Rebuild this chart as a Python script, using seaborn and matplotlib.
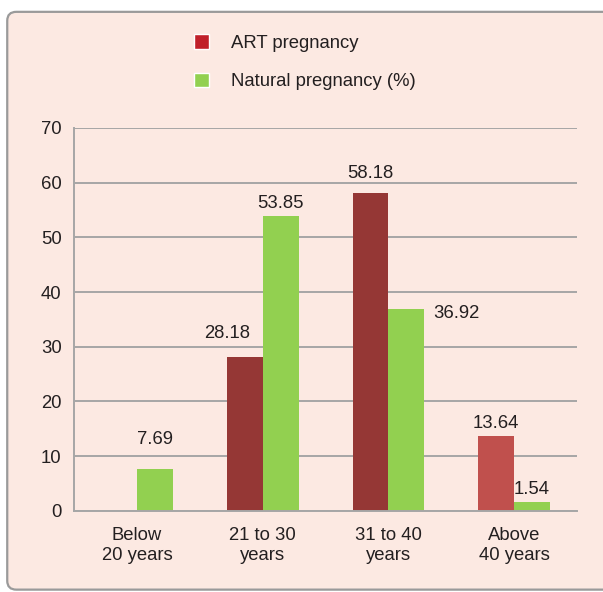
import seaborn as sns
import matplotlib.pyplot as plt
import pandas as pd
from matplotlib.patches import FancyBboxPatch, Patch

categories = ['Below\n20 years', '21 to 30\nyears', '31 to 40\nyears', 'Above\n40 years']
art = [0, 28.18, 58.18, 13.64]
natural = [7.69, 53.85, 36.92, 1.54]
series = ['ART pregnancy', 'Natural pregnancy (%)']

df = pd.DataFrame({
    'group': categories * 2,
    'value': art + natural,
    'series': [series[0]] * 4 + [series[1]] * 4,
})

bg = '#FCE9E2'
txt = '#231F20'
fs = 13.3
sns.set_style('white')
plt.rcParams['font.family'] = ['Liberation Sans', 'DejaVu Sans']

fig = plt.figure(figsize=(6.03, 5.92), dpi=100)
fig.patch.set_facecolor('white')
frame = FancyBboxPatch((0.012, 0.004), 1.2, 0.976, boxstyle='round,pad=0,rounding_size=0.015',
                       transform=fig.transFigure, facecolor=bg, edgecolor='#9A9A9A', lw=1.6,
                       zorder=-10)
fig.patches.append(frame)

ax = fig.add_axes([0.123, 0.137, 0.834, 0.647])
ax.set_facecolor(bg)
sns.barplot(data=df, x='group', y='value', hue='series', ax=ax,
            palette=['#953735', '#92D050'], width=0.57, saturation=1, legend=False,
            linewidth=0)

# the last ART bar is a lighter red in the original
ax.containers[0].patches[3].set_facecolor('#C0504D')

ax.set_ylim(0, 70)
ax.set_xlim(-0.5, 3.5)
ax.set_yticks(range(0, 71, 10))
ax.yaxis.grid(True, color='#A6A6A6', lw=1.4)
ax.set_axisbelow(True)
for s in ['top', 'right']:
    ax.spines[s].set_visible(False)
for s in ['left', 'bottom']:
    ax.spines[s].set_color('#A6A6A6')
    ax.spines[s].set_linewidth(1.4)
ax.set_xticks([-0.5, 0.5, 1.5, 2.5, 3.5])
ax.set_xticklabels([])
ax.set_xticks([0, 1, 2, 3], minor=True)
ax.set_xticklabels(categories, minor=True, fontsize=fs, color=txt, linespacing=1.25)
ax.tick_params(axis='x', which='major', length=6, color='#A6A6A6', width=1.4, direction='out')
ax.tick_params(axis='x', which='minor', length=0, pad=11.5)
ax.tick_params(axis='y', length=6, color='#A6A6A6', width=1.4, labelsize=fs, labelcolor=txt, pad=3)
ax.set_xlabel('')
ax.set_ylabel('')

# value labels, offsets in points (x, y) to follow the original placement
offsets = {
    (0, 1): (0, 21), (1, 0): (-13, 17), (1, 1): (0, 9.5), (2, 0): (0, 14),
    (2, 1): (36, -3), (3, 0): (0, 9), (3, 1): (0, 9.5),
}
for hi, cont in enumerate(ax.containers):
    for ci, p in enumerate(cont.patches):
        if (ci, hi) not in offsets:
            continue
        dx, dy = offsets[(ci, hi)]
        ax.annotate(f'{p.get_height():.2f}', (p.get_x() + p.get_width() / 2, p.get_height()),
                    xytext=(dx, dy), textcoords='offset points', ha='center', va='center',
                    fontsize=fs, color=txt, annotation_clip=False)

handles = [Patch(facecolor='#C0202A'), Patch(facecolor='#92D050')]
fig.legend(handles, series, loc='upper left', bbox_to_anchor=(0.294, 0.97), frameon=False,
           fontsize=fs, handlelength=0.8, handleheight=0.8, labelspacing=1.14,
           handletextpad=1.2, labelcolor=txt)

fig.savefig('out.png', dpi=100, facecolor='white')
